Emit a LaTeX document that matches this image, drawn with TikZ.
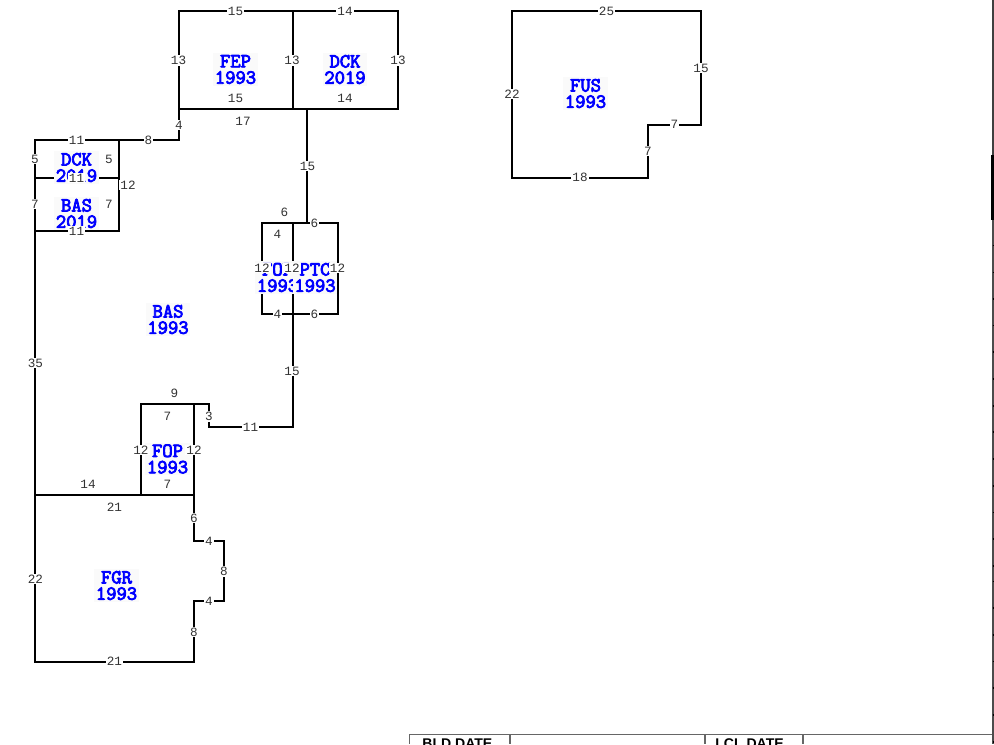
\documentclass[tikz,border=0pt]{standalone}
\usepackage{fontspec}
\setmainfont{Liberation Sans}
\newfontfamily\dimfont{Liberation Mono}
\newfontfamily\areafont[FakeBold=4]{Latin Modern Mono}
\tikzset{
  wall/.style={black,line width=1.2pt,line join=miter},
  sharedwall/.style={black,line width=1.6pt},
  dimlabel/.style={fill=white,inner sep=0.6pt,text=black!80,font=\dimfont\fontsize{7.2}{8}\selectfont},
  arealabel/.style={fill=black!2,inner sep=1pt,text=blue,align=center,font=\areafont\fontsize{11.4}{9.3}\selectfont},
  formline/.style={black!60,line width=0.7pt},
  formtext/.style={anchor=base west,inner sep=0pt,font=\bfseries\fontsize{8}{9}\selectfont}
}
\begin{document}
\begin{tikzpicture}[x=0.02cm,y=-0.02cm]
\clip (0,0) rectangle (994,744);
% rooms
\draw[wall] (179,11) -- (398,11) -- (398,109) -- (179,109) -- cycle;
\draw[wall] (512,11) -- (701,11) -- (701,125) -- (648,125) -- (648,178) -- (512,178) -- cycle;
\draw[wall] (179,109) -- (179,140) -- (35,140) -- (35,662) -- (194,662) -- (194,601) -- (224,601) -- (224,541) -- (194,541) -- (194,404);
\draw[wall] (141,404) -- (209,404) -- (209,427) -- (293,427) -- (293,223);
\draw[wall] (262,223) rectangle (338,314);
\draw[wall] (307,109) -- (307,223);
\draw[sharedwall] (293,11) -- (293,109);
\draw[sharedwall] (179,109) -- (307,109);
\draw[sharedwall] (119,140) -- (119,231) -- (35,231);
\draw[sharedwall] (35,178) -- (119,178);
\draw[sharedwall] (35,495) -- (194,495);
\draw[sharedwall] (141,495) -- (141,404) -- (194,404);
\draw[sharedwall] (262,223) -- (293,223);
% page edge and form
\draw[black!75,line width=1.2pt] (992.7,0) -- (992.7,155);
\draw[black,line width=1.6pt] (992.7,155) -- (992.7,220);
\draw[black!70,line width=0.9pt] (992.7,220) -- (992.7,744);
\foreach \ty in {245.7,272.3,299,325.7,352,379,406,432,459,486,512.7,539,566,581.7,608,635,661.7,688,715,742}
  \draw[black,line width=0.7pt] (992.7,\ty) -- (994,\ty);
\draw[formline] (409,734.5) -- (992,734.5);
\draw[formline] (409.5,734.5) -- (409.5,744);
\draw[formline] (510,734.5) -- (510,744);
\draw[formline] (705,734.5) -- (705,744);
\draw[formline] (803,734.5) -- (803,744);
\node[formtext] (blddate) at (422,748.5) {BLD DATE};
\node[formtext] (lcldate) at (715,748.5) {LCL DATE};
% area labels
\node[arealabel] (fep) at (235.5,69.5) {FEP\\1993};
\node[arealabel] (dck) at (345,69.5) {DCK\\2019};
\node[arealabel] (fus) at (585.5,93.5) {FUS\\1993};
\node[arealabel] (dcktwo) at (76.5,167.5) {DCK\\2019};
\node[arealabel] (bastwo) at (76.5,213.5) {BAS\\2019};
\node[arealabel] (bas) at (168,319.5) {BAS\\1993};
\node[arealabel] (fopa) at (277.5,277.5) {FOP\\1993};
\node[arealabel] (ptc) at (315,277.5) {PTC\\1993};
\node[arealabel] (fopb) at (167.5,459) {FOP\\1993};
\node[arealabel] (fgr) at (116.5,585.5) {FGR\\1993};
% dimensions
\node[dimlabel] (d1) at (235.5,11) {15};
\node[dimlabel] (d2) at (345,11) {14};
\node[dimlabel] (d3) at (178.5,60.5) {13};
\node[dimlabel] (d4) at (292,60.5) {13};
\node[dimlabel] (d5) at (398,60.5) {13};
\node[dimlabel] (d6) at (235.5,98) {15};
\node[dimlabel] (d7) at (345,98) {14};
\node[dimlabel] (d8) at (243,121) {17};
\node[dimlabel] (d9) at (179,125) {4};
\node[dimlabel] (d10) at (148.5,140) {8};
\node[dimlabel] (d11) at (76.5,140) {11};
\node[dimlabel] (d12) at (35,159) {5};
\node[dimlabel] (d13) at (109,159) {5};
\node[dimlabel] (d14) at (76.5,178) {11};
\node[dimlabel] (d15) at (128,185) {12};
\node[dimlabel] (d16) at (35,204) {7};
\node[dimlabel] (d17) at (109,204) {7};
\node[dimlabel] (d18) at (76.5,231) {11};
\node[dimlabel] (d19) at (307.5,166) {15};
\node[dimlabel] (d20) at (284.5,212) {6};
\node[dimlabel] (d21) at (314.5,223) {6};
\node[dimlabel] (d22) at (277.5,234.5) {4};
\node[dimlabel] (d23) at (262,268) {12};
\node[dimlabel] (d24) at (292,268) {12};
\node[dimlabel] (d25) at (337.5,268) {12};
\node[dimlabel] (d26) at (277.5,314) {4};
\node[dimlabel] (d27) at (314.5,314) {6};
\node[dimlabel] (d28) at (292,371) {15};
\node[dimlabel] (d29) at (35.5,363) {35};
\node[dimlabel] (d30) at (174.5,393) {9};
\node[dimlabel] (d31) at (167.5,416) {7};
\node[dimlabel] (d32) at (209,416.5) {3};
\node[dimlabel] (d33) at (250.5,427) {11};
\node[dimlabel] (d34) at (141,450) {12};
\node[dimlabel] (d35) at (194,450) {12};
\node[dimlabel] (d36) at (88,484) {14};
\node[dimlabel] (d37) at (167.5,484) {7};
\node[dimlabel] (d38) at (114.5,507) {21};
\node[dimlabel] (d39) at (194,518) {6};
\node[dimlabel] (d40) at (209,541) {4};
\node[dimlabel] (d41) at (224,571.5) {8};
\node[dimlabel] (d42) at (209,601) {4};
\node[dimlabel] (d43) at (194,632) {8};
\node[dimlabel] (d44) at (35.5,579) {22};
\node[dimlabel] (d45) at (114.5,661.5) {21};
\node[dimlabel] (d46) at (606.5,11) {25};
\node[dimlabel] (d47) at (701,68) {15};
\node[dimlabel] (d48) at (512,94) {22};
\node[dimlabel] (d49) at (674.5,124.5) {7};
\node[dimlabel] (d50) at (648,151) {7};
\node[dimlabel] (d51) at (580,177.5) {18};
\end{tikzpicture}
\end{document}
